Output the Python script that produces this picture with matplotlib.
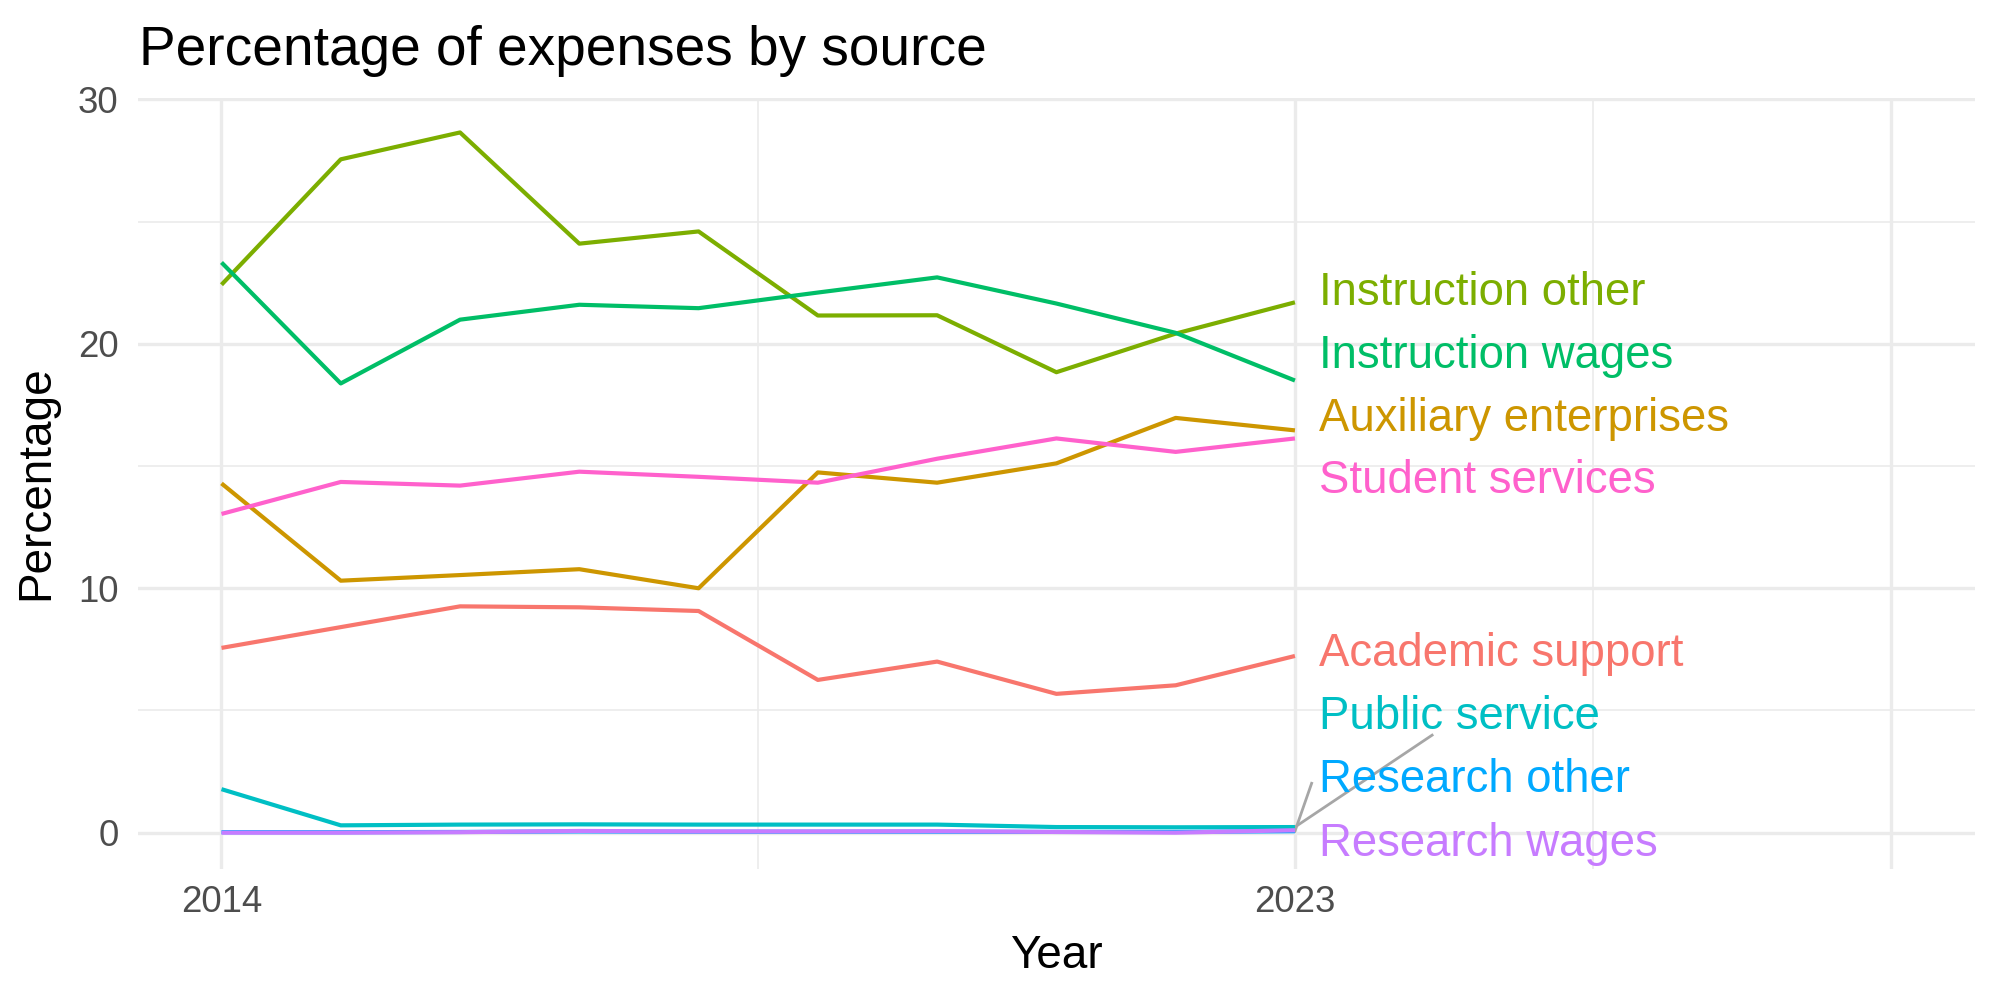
import matplotlib.pyplot as plt

plt.rcParams['font.family'] = ['Liberation Sans', 'DejaVu Sans']

# yearly share of expenses (%)
years = list(range(2014, 2024))
academic_support = [7.56, 8.41, 9.26, 9.22, 9.07, 6.25, 7.0, 5.68, 6.03, 7.23]
auxiliary_enterprises = [14.29, 10.31, 10.54, 10.78, 10.0, 14.74, 14.32, 15.11, 16.97, 16.46]
instruction_other = [22.42, 27.55, 28.65, 24.1, 24.6, 21.16, 21.17, 18.84, 20.42, 21.7]
instruction_wages = [23.33, 18.38, 20.99, 21.6, 21.46, 22.1, 22.72, 21.65, 20.45, 18.5]
public_service = [1.78, 0.3, 0.33, 0.34, 0.33, 0.33, 0.33, 0.23, 0.22, 0.23]
research_other = [0.02, 0.02, 0.03, 0.05, 0.04, 0.04, 0.04, 0.03, 0.03, 0.06]
research_wages = [0.0, 0.0, 0.02, 0.07, 0.05, 0.05, 0.06, 0.03, 0.0, 0.1]
student_services = [13.04, 14.35, 14.2, 14.77, 14.56, 14.32, 15.3, 16.13, 15.58, 16.13]

names = ['Academic support', 'Auxiliary enterprises', 'Instruction other',
         'Instruction wages', 'Public service', 'Research other',
         'Research wages', 'Student services']
series = [academic_support, auxiliary_enterprises, instruction_other,
          instruction_wages, public_service, research_other,
          research_wages, student_services]
colors = ['#F8766D', '#CD9600', '#7CAE00', '#00BE67',
          '#00BFC4', '#00A9FF', '#C77CFF', '#FF61CC']
# repelled label baselines
label_y = [6.8, 16.42, 21.61, 19.01, 4.23, 1.66, -0.94, 13.89]

fig = plt.figure(figsize=(10, 5), dpi=200)
ax = fig.add_axes([0.069, 0.1314, 0.9184, 0.7711])

for name, vals, col in zip(names, series, colors):
    ax.plot(years, vals, color=col, lw=1.5, solid_capstyle='butt', zorder=3)

# repel segments for the crowded bottom labels
ax.plot([2023, 2024.15], [public_service[-1], 3.99], color='#A6A6A6', lw=1.0, zorder=2)
ax.plot([2023, 2023.14], [research_other[-1], 2.02], color='#A6A6A6', lw=1.0, zorder=2)

for name, ly, col in zip(names, label_y, colors):
    ax.text(2023.2, ly, name, color=col, fontsize=16.4, ha='left', va='baseline', zorder=4)

ax.set_xlim(2013.3, 2028.7)
ax.set_ylim(-1.47, 30.08)
ax.set_xticks([2014, 2023, 2028])
ax.set_xticklabels(['2014', '2023', ''])
ax.set_xticks([2018.5, 2025.5], minor=True)
ax.set_yticks([0, 10, 20, 30])
ax.set_yticks([5, 15, 25], minor=True)
ax.grid(which='major', color='#EBEBEB', lw=1.2)
ax.grid(which='minor', color='#EBEBEB', lw=0.6)
ax.set_axisbelow(True)
ax.tick_params(which='both', length=0)
ax.tick_params(axis='both', labelsize=13.2, labelcolor='#4D4D4D')
ax.tick_params(axis='x', pad=6)
ax.tick_params(axis='y', pad=7)
for s in ax.spines.values():
    s.set_visible(False)

ax.set_xlabel('Year', fontsize=16.5, labelpad=5)
ax.set_ylabel('Percentage', fontsize=16.5, labelpad=7)
fig.text(0.0695, 0.935, 'Percentage of expenses by source', fontsize=19.8, ha='left', va='baseline')

fig.savefig('out.png', dpi=200, facecolor='white')
